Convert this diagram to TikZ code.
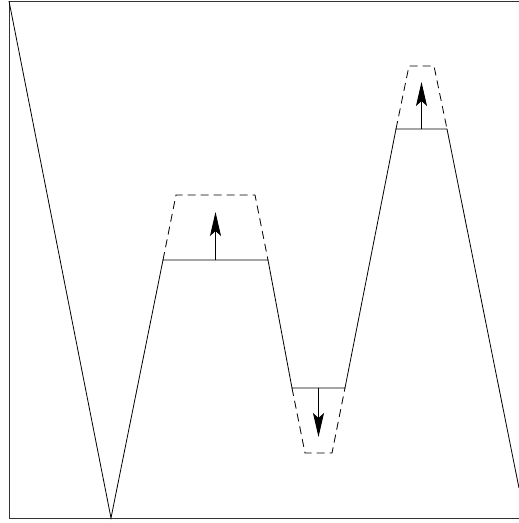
\documentclass[tikz,border=0pt]{standalone}
\usetikzlibrary{arrows.meta, calc}
\tikzset{
  frame/.style={line width=1.0pt, draw=black!80},
  curve/.style={line width=0.8pt, line join=miter},
  shifted/.style={line width=0.8pt, dash pattern=on 8pt off 5pt},
  push/.style={-{Stealth[length=24pt, width=11pt, inset=5pt]}, line width=0.8pt},
}

\begin{document}
\begin{tikzpicture}[x=1pt, y=-1pt]

\useasboundingbox (0,0) rectangle (519,523);

% Frame (right side lies outside the page)
\draw[frame] (519,1) -- (9,1) -- (9,518) -- (519,518);

% Profile
\coordinate (p0) at (9,1);
\coordinate (p1) at (111,518);
\coordinate (p2) at (163,260);
\coordinate (p3) at (268,260);
\coordinate (p4) at (292,388);
\coordinate (p5) at (345,388);
\coordinate (p6) at (396,129);
\coordinate (p7) at (447,129);
\coordinate (p8) at (519,488);
\draw[curve] (p0) -- (p1) -- (p2) -- (p3) -- (p4) -- (p5) -- (p6) -- (p7) -- (p8);

% Displaced levels (dashed)
\coordinate (q2) at (176,195);
\coordinate (q3) at (255,195);
\coordinate (q4) at (305,453);
\coordinate (q5) at (332,453);
\coordinate (q6) at (409,66);
\coordinate (q7) at (434,66);
\draw[shifted] (p2) -- (q2) -- (q3) -- (p3);
\draw[shifted] (p4) -- (q4) -- (q5) -- (p5);
\draw[shifted] (p6) -- (q6) -- (q7) -- (p7);

% --- Arrows -------------------------------------------------------------
\coordinate (a1) at ($(p2)!0.5!(p3)$);
\coordinate (a2) at ($(p4)!0.5!(p5)$);
\coordinate (a3) at ($(p6)!0.5!(p7)$);
\coordinate (b1) at ($(a1)+(0,-48)$);
\coordinate (b2) at ($(a2)+(0,49)$);
\coordinate (b3) at ($(a3)+(0,-47)$);
\draw[push] (a1) -- (b1);
\draw[push] (a2) -- (b2);
\draw[push] (a3) -- (b3);

\end{tikzpicture}
\end{document}
